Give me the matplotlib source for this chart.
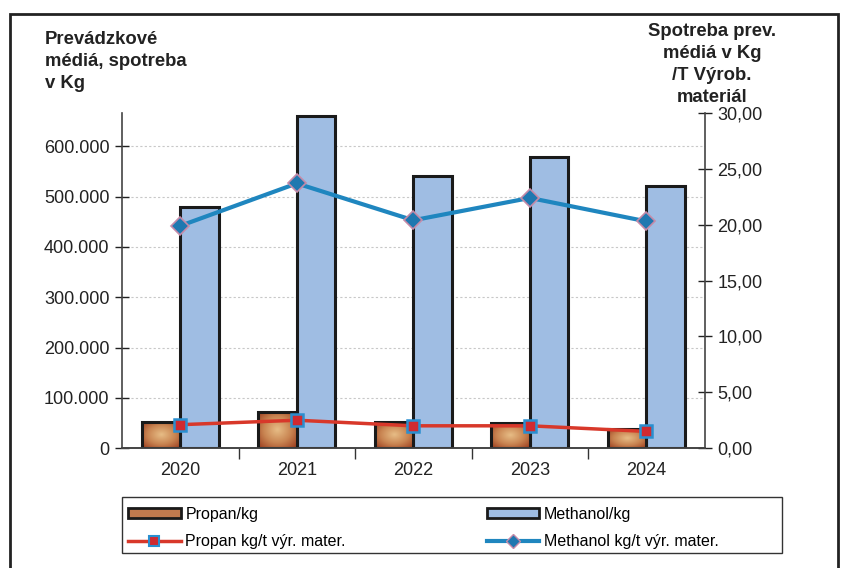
import matplotlib
matplotlib.use("Agg")
import matplotlib.pyplot as plt
import matplotlib.patches as mpatches
from matplotlib.colors import LinearSegmentedColormap
from matplotlib.ticker import FuncFormatter, FixedLocator
from matplotlib.lines import Line2D
import numpy as np

plt.rcParams['font.family'] = ['Liberation Sans', 'DejaVu Sans']

# data
years = ['2020', '2021', '2022', '2023', '2024']
propan_kg = [52000, 72000, 52000, 50000, 38000]
methanol_kg = [479000, 660000, 541000, 579000, 521000]
propan_per_t = [2.1, 2.5, 2.0, 2.0, 1.5]
methanol_per_t = [19.9, 23.7, 20.4, 22.4, 20.3]

propan_color = '#c07a4e'
methanol_color = '#9fbde3'
propan_line = '#d8382a'
methanol_line = '#1f86bf'

fig = plt.figure(figsize=(8.41, 5.68), dpi=100)
ax = fig.add_axes([0.145, 0.211, 0.693, 0.590])
ax2 = ax.twinx()

x = np.arange(len(years))
w = 0.33
pbars = ax.bar(x - w / 2, propan_kg, w, color=propan_color, edgecolor='none', zorder=3)
ax.bar(x + w / 2, methanol_kg, w, color=methanol_color, edgecolor='#1a1a1a', linewidth=2.2, zorder=3)

# brownish radial shading inside the propan bars
cmap = LinearSegmentedColormap.from_list('brn', ['#e6bb84', '#c98552', '#9a3a1c'])
gu, gv = np.meshgrid(np.linspace(-1, 1, 60), np.linspace(-1, 1, 60))
grad = np.sqrt(gu ** 2 + gv ** 2) / np.sqrt(2)
for r in pbars:
    im = ax.imshow(grad, extent=[r.get_x(), r.get_x() + r.get_width(), 0, r.get_height()],
                   cmap=cmap, aspect='auto', origin='lower', zorder=3.2)
    im.set_clip_path(r)
ax.bar(x - w / 2, propan_kg, w, fill=False, edgecolor='#1a1a1a', linewidth=2.2, zorder=3.5)

ax2.plot(x, propan_per_t, color=propan_line, linewidth=2.5, marker='s', markersize=9,
         markerfacecolor='#d02a30', markeredgecolor='#2a8fd0', markeredgewidth=1.8, zorder=5)
ax2.plot(x, methanol_per_t, color=methanol_line, linewidth=3, marker='D', markersize=9,
         markerfacecolor='#1f78b0', markeredgecolor='#c58aa8', markeredgewidth=1.2, zorder=5)

# left axis
ax.set_xlim(-0.5, len(years) - 0.5)
ax.set_ylim(0, 666000)
ax.set_yticks(np.arange(0, 600001, 100000))
ax.yaxis.set_major_formatter(FuncFormatter(lambda v, p: f'{int(v):,}'.replace(',', '.')))
ax.yaxis.grid(True, linestyle=(0, (2, 2)), color='#c8c8c8', linewidth=0.8, zorder=0)
ax.set_axisbelow(True)
ax.tick_params(axis='y', direction='inout', length=10, width=1, labelsize=13, pad=4, colors='#222222')

ax.set_xticks(x)
ax.set_xticklabels(years)
ax.xaxis.set_minor_locator(FixedLocator(np.arange(0.5, len(years) - 1, 1)))
ax.tick_params(axis='x', which='major', length=0, labelsize=13, pad=10, colors='#222222')
ax.tick_params(axis='x', which='minor', direction='out', length=8, width=1, colors='#333333')

# right axis
ax2.set_ylim(0, 30)
ax2.set_yticks(np.arange(0, 31, 5))
ax2.yaxis.set_major_formatter(FuncFormatter(lambda v, p: f'{v:.2f}'.replace('.', ',')))
ax2.tick_params(axis='y', direction='inout', length=10, width=1, labelsize=13, pad=4, colors='#222222')

for a in (ax, ax2):
    a.spines['top'].set_visible(False)
    for s in ('left', 'right', 'bottom'):
        a.spines[s].set_color('#444444')
        a.spines[s].set_linewidth(1.2)
ax.spines['right'].set_visible(False)
ax2.spines['left'].set_visible(False)

# axis titles
fig.text(0.053, 0.945, 'Prevádzkové\nmédiá, spotreba\nv Kg', ha='left', va='top',
         fontsize=13.3, fontweight='bold', linespacing=1.38, color='#222222')
fig.text(0.8466, 0.96, 'Spotreba prev.\nmédiá v Kg\n/T Výrob.\nmateriál', ha='center', va='top',
         fontsize=13.3, fontweight='bold', linespacing=1.38, color='#222222')

# legend
handles = [
    mpatches.Patch(facecolor=propan_color, edgecolor='#1a1a1a', linewidth=2),
    Line2D([], [], color=propan_line, linewidth=2.5, marker='s', markersize=7,
           markerfacecolor='#d02a30', markeredgecolor='#2a8fd0', markeredgewidth=1.5),
    mpatches.Patch(facecolor=methanol_color, edgecolor='#1a1a1a', linewidth=2),
    Line2D([], [], color=methanol_line, linewidth=3, marker='D', markersize=7,
           markerfacecolor='#1f78b0', markeredgecolor='#c58aa8', markeredgewidth=1),
]
labels = ['Propan/kg', 'Propan kg/t výr. mater.', 'Methanol/kg', 'Methanol kg/t výr. mater.']
fig.legend(handles, labels, ncol=2, loc='upper left', bbox_to_anchor=(128 / 841, 1 - 507 / 568),
           fontsize=11.5, frameon=False, handlelength=3.3, handleheight=0.6,
           handletextpad=0.3, borderaxespad=0, borderpad=0, columnspacing=8.8, labelspacing=0.75)
fig.patches.append(mpatches.Rectangle((122 / 841, 1 - 553 / 568), 660 / 841, 56 / 568,
                                      transform=fig.transFigure, fill=False,
                                      edgecolor='#333333', linewidth=1))

# outer frame
fig.patches.append(mpatches.Rectangle((0.012, -0.01), 0.984, 0.985, transform=fig.transFigure,
                                      fill=False, edgecolor='#222222', linewidth=2))

fig.savefig('out.png', dpi=100)
